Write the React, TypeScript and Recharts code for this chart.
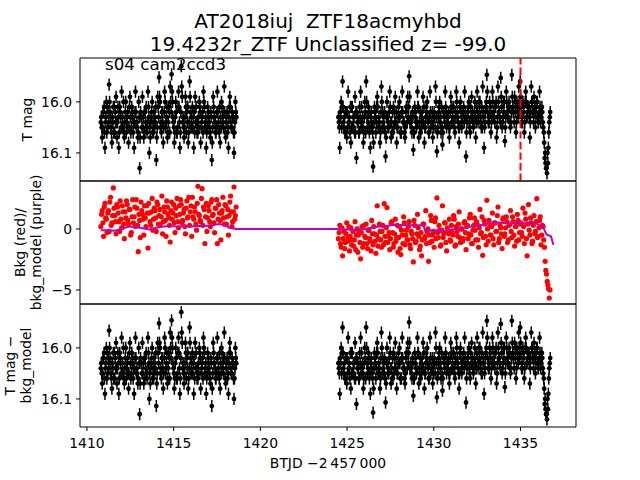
import React from 'react';
import {
  ScatterChart,
  ComposedChart,
  Scatter,
  Line,
  XAxis,
  YAxis,
  ErrorBar,
  ReferenceLine,
  ReferenceArea,
} from 'recharts';

// ---- data ----
// Light curve sampled on a regular cadence; three interleaved read-outs per cadence step.
const SEG1_START = 1410.8;
const SEG2_START = 1424.5;
const CADENCE = 0.08;
const MAG_ERR = 0.012;

// T mag, segment 1 (three interleaved phases)
const seg1Mag = [
  16.04, 16.07, 16.02, 16.09, 16.0, 16.05, 15.966, 16.03, 16.08, 16.01,
  16.06, 15.99, 16.04, 16.09, 16.02, 15.98, 16.05, 16.07, 16.0, 16.03,
  16.08, 15.99, 16.05, 16.02, 16.09, 15.98, 16.04, 16.06, 16.13, 16.03,
  15.99, 16.07, 16.02, 16.05, 15.98, 16.1, 16.04, 16.0, 16.06, 16.03,
  16.114, 15.99, 15.952, 16.05, 16.02, 16.08, 15.98, 16.04, 16.07, 16.01,
  15.97, 15.946, 16.03, 16.08, 16.0, 16.06, 15.98, 16.09, 15.93, 16.04,
  16.07, 15.99, 16.02, 16.08, 15.96, 16.05, 16.01, 16.09, 15.99, 16.04,
  16.06, 16.0, 16.08, 16.03, 15.98, 16.05, 16.09, 16.01, 16.04, 16.07,
  16.114, 15.99, 16.03, 16.06, 15.98, 16.05, 16.08, 16.0, 16.04, 15.97,
  16.07, 16.02, 16.09, 15.99, 16.05, 16.03, 16.1, 16.0,
];
const seg1MagB = [
  16.03, 16.05, 16.01, 16.04, 16.06, 16.02, 16.0, 16.05, 16.03, 16.06,
  16.02, 16.04, 16.01, 16.06, 16.03, 16.05, 16.0, 16.04, 16.06, 16.02,
  16.05, 16.03, 16.01, 16.06, 16.04, 16.02, 16.05, 16.0, 16.07, 16.03,
  16.05, 16.02, 16.04, 16.06, 16.01, 16.05, 16.03, 16.06, 16.02, 16.04,
  16.07, 16.01, 15.99, 16.04, 16.02, 16.05, 16.0, 16.03, 16.06, 16.02,
  16.0, 15.98, 16.04, 16.06, 16.02, 16.05, 16.01, 16.06, 15.97, 16.03,
  16.05, 16.01, 16.04, 16.06, 15.99, 16.03, 16.05, 16.02, 16.04, 16.06,
  16.03, 16.01, 16.05, 16.02, 16.0, 16.04, 16.06, 16.03, 16.05, 16.02,
  16.08, 16.01, 16.04, 16.05, 16.02, 16.06, 16.03, 16.01, 16.05, 16.02,
  16.04, 16.06, 16.03, 16.01, 16.05, 16.03, 16.06, 16.02,
];
const seg1MagC = [
  16.05, 16.02, 16.06, 16.03, 16.01, 16.04, 16.02, 16.06, 16.04, 16.01,
  16.04, 16.07, 16.03, 16.01, 16.05, 16.03, 16.06, 16.02, 16.04, 16.05,
  16.01, 16.06, 16.03, 16.04, 16.02, 16.05, 16.07, 16.03, 16.02, 16.05,
  16.03, 16.06, 16.01, 16.04, 16.03, 16.07, 16.02, 16.04, 16.05, 16.01,
  16.05, 16.03, 16.0, 16.06, 16.04, 16.02, 16.05, 16.01, 16.04, 16.06,
  16.02, 16.0, 16.05, 16.03, 16.06, 16.01, 16.04, 16.02, 15.99, 16.05,
  16.03, 16.06, 16.01, 16.04, 16.02, 16.05, 16.03, 16.06, 16.01, 16.04,
  16.05, 16.02, 16.04, 16.06, 16.01, 16.03, 16.05, 16.02, 16.06, 16.03,
  16.05, 16.03, 16.06, 16.02, 16.04, 16.01, 16.05, 16.03, 16.02, 16.06,
  16.03, 16.05, 16.01, 16.04, 16.02, 16.06, 16.04, 16.03,
];

// T mag, segment 2 (three interleaved phases)
const seg2Mag = [
  16.03, 16.09, 16.0, 15.96, 16.05, 16.02, 16.07, 15.98, 16.04, 16.08,
  16.01, 16.05, 15.99, 16.11, 16.03, 16.06, 15.98, 16.04, 16.08, 16.0,
  15.96, 16.05, 16.02, 16.09, 16.04, 16.127, 16.01, 16.06, 15.99, 16.03,
  16.08, 15.97, 16.02, 16.05, 16.107, 16.0, 16.04, 15.98, 16.07, 16.02,
  16.05, 15.99, 16.08, 16.03, 16.0, 16.06, 15.98, 16.04, 16.07, 16.01,
  15.99, 15.95, 16.03, 16.06, 16.094, 16.01, 16.04, 15.98, 16.07, 16.02,
  16.05, 15.99, 16.08, 16.03, 16.0, 16.06, 15.98, 16.04, 16.07, 16.02,
  15.97, 16.097, 16.03, 16.0, 16.06, 16.084, 16.02, 15.98, 16.05, 16.03,
  16.07, 15.99, 16.04, 16.01, 16.06, 15.98, 16.03, 16.08, 16.0, 16.05,
  16.02, 15.98, 16.107, 16.03, 16.0, 16.06, 15.99, 16.04, 16.02, 16.07,
  15.98, 16.03, 16.0, 16.05, 15.97, 16.09, 16.02, 15.947, 16.04, 16.0,
  16.06, 15.98, 16.03, 16.01, 16.07, 15.97, 16.02, 15.953, 16.05, 16.0,
  16.077, 15.98, 16.03, 16.0, 16.05, 15.947, 16.02, 15.99, 16.06, 16.01,
  15.97, 15.96, 16.04, 16.0, 16.06, 15.98, 16.03, 16.01, 16.07, 15.97,
  16.02, 15.99, 16.05, 16.0, 16.04, 15.98, 16.03, 16.02, 16.06, 16.1,
  16.13, 16.12, 16.04,
];
const seg2MagB = [
  16.04, 16.02, 16.05, 16.01, 16.03, 16.06, 16.02, 16.04, 16.06, 16.01,
  16.05, 16.03, 16.06, 16.02, 16.04, 16.01, 16.05, 16.03, 16.06, 16.02,
  16.0, 16.04, 16.06, 16.03, 16.05, 16.08, 16.02, 16.04, 16.01, 16.05,
  16.06, 16.0, 16.04, 16.02, 16.07, 16.03, 16.05, 16.01, 16.04, 16.06,
  16.02, 16.04, 16.05, 16.01, 16.03, 16.06, 16.02, 16.04, 16.05, 16.01,
  16.03, 15.99, 16.04, 16.02, 16.06, 16.03, 16.05, 16.01, 16.04, 16.06,
  16.02, 16.04, 16.05, 16.01, 16.03, 16.06, 16.02, 16.04, 16.05, 16.03,
  16.0, 16.06, 16.02, 16.04, 16.01, 16.06, 16.03, 16.01, 16.04, 16.02,
  16.05, 16.01, 16.03, 16.04, 16.02, 16.0, 16.04, 16.05, 16.02, 16.03,
  16.01, 16.03, 16.06, 16.02, 16.04, 16.01, 16.03, 16.05, 16.0, 16.04,
  16.02, 16.0, 16.04, 16.01, 16.03, 16.05, 16.01, 15.98, 16.03, 16.02,
  16.04, 16.0, 16.03, 16.01, 16.05, 16.0, 16.03, 15.99, 16.04, 16.02,
  16.05, 16.0, 16.03, 16.01, 16.04, 15.99, 16.02, 16.0, 16.04, 16.02,
  16.0, 15.99, 16.03, 16.01, 16.04, 16.0, 16.02, 16.01, 16.04, 16.0,
  16.02, 16.01, 16.03, 16.0, 16.03, 16.01, 16.02, 16.04, 16.08, 16.12,
  16.14, 16.09, 16.03,
];
const seg2MagC = [
  16.05, 16.03, 16.01, 16.04, 16.06, 16.02, 16.05, 16.03, 16.01, 16.05,
  16.03, 16.06, 16.02, 16.04, 16.06, 16.03, 16.01, 16.05, 16.03, 16.06,
  16.03, 16.01, 16.05, 16.02, 16.06, 16.04, 16.03, 16.01, 16.05, 16.04,
  16.02, 16.05, 16.03, 16.06, 16.03, 16.05, 16.02, 16.04, 16.06, 16.01,
  16.04, 16.02, 16.05, 16.03, 16.06, 16.02, 16.04, 16.06, 16.02, 16.04,
  16.01, 16.04, 16.05, 16.03, 16.06, 16.02, 16.04, 16.01, 16.05, 16.03,
  16.04, 16.01, 16.05, 16.02, 16.04, 16.03, 16.05, 16.02, 16.03, 16.05,
  16.03, 16.05, 16.01, 16.03, 16.05, 16.02, 16.04, 16.02, 16.03, 16.05,
  16.02, 16.04, 16.01, 16.05, 16.03, 16.02, 16.05, 16.01, 16.04, 16.02,
  16.04, 16.02, 16.04, 16.01, 16.05, 16.03, 16.02, 16.04, 16.03, 16.01,
  16.04, 16.02, 16.03, 16.05, 16.02, 16.04, 16.0, 16.02, 16.04, 16.01,
  16.03, 16.02, 16.04, 16.0, 16.03, 16.02, 16.04, 16.01, 16.03, 16.0,
  16.03, 16.02, 16.01, 16.04, 16.02, 16.01, 16.04, 16.02, 16.0, 16.03,
  16.02, 16.01, 16.04, 16.02, 16.0, 16.03, 16.01, 16.03, 16.02, 16.0,
  16.04, 16.02, 16.01, 16.03, 16.02, 16.04, 16.01, 16.05, 16.11, 16.13,
  16.1, 16.06, 16.02,
];

// Background flux, two interleaved phases per segment
const seg1Bkg = [
  0.2, 1.5, -0.6, 2.1, 0.8, 1.3, -0.2, 2.6, 0.5, 3.36,
  1.1, -0.4, 1.8, 0.6, 2.3, 0.1, 1.4, -0.8, 0.9, 2.0,
  0.4, 1.6, -0.3, 2.4, 1.0, 0.2, 1.7, -1.86, 0.7, 2.2,
  1.2, -0.5, 0.9, 1.9, -1.56, 1.3, 0.3, 2.5, 0.8, 1.5,
  -0.2, 2.0, 1.1, 0.4, 2.7, 0.6, 1.4, -0.6, 1.8, 0.9,
  -1.07, 2.2, 1.3, 0.5, 1.7, 2.5, 0.1, 1.2, 2.0, 0.7,
  1.6, -0.4, 2.3, 1.0, 0.3, 1.9, 2.6, 0.8, 1.4, -0.1,
  3.5, 1.1, 0.6, 3.3, 1.8, -1.2, 2.1, 0.9, 1.5, 0.2,
  2.4, 1.2, -0.3, 1.7, -1.2, 2.0, 0.7, 1.3, 2.6, 0.4,
  1.9, 1.0, -0.5, 2.2, 1.4, 0.6, 3.44, 1.1,
];
const seg1BkgB = [
  1.2, 0.5, 1.8, 0.9, -0.3, 1.5, 2.2, 0.3, 1.1, 1.7,
  0.6, 2.0, 1.3, -0.2, 0.8, 1.9, 0.4, 1.4, 2.3, 0.7,
  1.6, -0.5, 1.0, 0.5, 1.8, 2.4, 0.3, 1.2, -0.7, 1.5,
  0.8, 1.9, 0.2, 1.3, 2.1, 0.6, 1.4, -0.1, 1.7, 0.9,
  2.2, 0.4, 1.6, 1.0, -0.4, 1.8, 0.7, 2.3, 1.2, 0.3,
  1.5, 0.8, 2.0, -0.3, 1.1, 0.6, 1.9, 2.4, 0.5, 1.3,
  0.2, 1.7, 0.9, 2.6, 1.4, -0.6, 1.0, 1.8, 0.4, 2.1,
  1.2, 0.7, 2.5, 0.3, 1.6, 1.0, -0.2, 1.9, 0.6, 2.2,
  1.1, 0.5, 1.7, 2.4, 0.8, 1.3, -0.9, 1.5, 0.9, 2.0,
  0.4, 1.6, 1.1, 2.7, 0.2, 1.4, 0.8, 1.8,
];
const seg2Bkg = [
  -0.8, 0.3, -1.5, -2.2, -0.2, -1.1, 0.5, -0.7, -1.8, 0.1,
  -0.9, -1.4, 0.6, -0.5, -1.9, -0.3, -2.45, 0.2, -1.2, -0.6,
  0.4, -1.6, -0.1, -1.0, 0.7, -1.3, -0.4, -2.0, 1.9, -0.8,
  -0.2, -1.5, 0.3, 2.07, -1.1, 1.75, -0.6, -1.7, 0.5, -0.3,
  -1.2, 0.8, -0.7, -1.9, 0.2, -2.1, -0.5, 1.0, -1.3, -0.1,
  -0.9, 0.6, -1.6, -0.4, -2.7, 0.3, -1.0, 1.2, -0.6, -1.4,
  -2.2, 0.4, -0.8, 1.5, -0.2, -2.65, -1.1, 0.7, -0.5, -1.5,
  0.9, 2.54, -0.7, -0.1, -1.3, 1.9, -0.4, 0.5, -1.8, -0.2,
  0.8, -1.0, -0.3, 1.1, -1.4, 0.2, -0.6, 1.4, -1.1, 0.0,
  -0.8, 0.6, -1.7, 0.3, -0.4, 1.2, -1.2, -0.1, 0.9, -0.9,
  0.4, -1.5, 1.6, -0.3, -2.16, 0.7, -0.6, 2.35, -1.0, 0.2,
  -0.5, 1.3, -1.3, 0.5, -0.2, 1.8, -0.8, 0.1, -1.6, 0.9,
  -0.4, 1.0, -1.1, 0.3, 1.5, -0.7, 0.6, -1.4, 0.2, 1.2,
  -0.9, 0.4, -0.3, 1.7, -1.2, 0.8, -2.2, 2.0, -0.5, 0.5,
  -1.0, 1.1, -0.2, 2.48, -0.6, 0.7, -1.3, 0.3, -0.9, -2.65,
  -3.7, -4.6, -5.66,
];
const seg2BkgB = [
  -0.3, -1.2, 0.1, -0.8, -1.6, -0.4, -1.0, 0.2, -0.6, -1.3,
  -0.2, -0.9, -1.7, 0.0, -0.5, -1.1, -0.3, -1.5, 0.3, -0.7,
  -1.2, -0.1, -0.8, -1.8, -0.4, 0.2, -1.0, -0.5, -1.4, 0.4,
  -0.9, -0.2, -1.3, -0.6, 0.1, -1.1, -0.3, -0.8, 0.6, -1.5,
  -0.4, -1.0, 0.3, -0.7, -1.6, -0.1, -1.2, 0.5, -0.5, -0.9,
  0.2, -1.3, -0.2, -0.8, 0.7, -1.1, -0.4, 0.1, -1.7, -0.3,
  -0.9, 0.4, -0.6, -1.2, 0.0, -0.5, 1.1, -1.0, -0.2, 0.6,
  -0.8, -0.3, 0.3, -1.4, -0.1, -0.7, 0.5, -1.1, 0.1, -0.4,
  -0.9, 0.3, -0.5, 0.8, -1.3, -0.2, 0.4, -0.7, 0.0, -1.0,
  0.5, -0.3, 0.2, -0.8, 0.9, -0.5, -1.2, 0.3, -0.1, 0.6,
  -0.9, 0.1, -0.4, 1.0, -0.7, 0.4, -1.3, 0.0, 0.7, -0.5,
  0.2, -0.8, 0.5, -0.2, 1.1, -1.1, 0.3, -0.4, 0.8, -0.6,
  0.1, 0.6, -0.9, 0.4, -0.2, 1.0, -0.5, 0.2, -1.0, 0.7,
  -0.3, 0.5, -0.6, 0.2, 1.3, -0.8, 0.4, -0.1, 0.9, -1.2,
  0.3, -0.4, 0.6, -0.7, 0.1, 1.0, -0.5, 0.2, -1.5, -3.4,
  -4.3, -4.9, -5.0,
];

// Background model (purple line)
const modelTime = [
  1410.8, 1411.2, 1411.6, 1412.0, 1412.4, 1412.8, 1413.2, 1413.6, 1414.0, 1414.4,
  1414.8, 1415.2, 1415.6, 1416.0, 1416.4, 1416.8, 1417.2, 1417.6, 1417.9, 1418.2,
  1418.6, 1424.5, 1425.0, 1425.5, 1426.0, 1426.6, 1427.2, 1427.8, 1428.4, 1429.0,
  1429.4, 1429.5, 1430.1, 1430.5, 1431.2, 1432.0, 1432.8, 1433.5, 1433.9, 1434.3,
  1434.9, 1435.4, 1435.9, 1436.3, 1436.5, 1436.75, 1436.9,
];
const modelBkg = [
  -0.1, -0.1, -0.15, 0.0, 0.2, 0.15, 0.05, -0.05, 0.1, 0.2,
  0.25, 0.2, 0.25, 0.2, 0.25, 0.25, 0.3, 0.4, 0.35, 0.1,
  0.0, 0.0, -0.05, -0.1, 0.0, 0.15, 0.25, 0.35, 0.3, 0.3,
  0.3, -0.15, -0.1, -0.2, 0.0, 0.15, 0.35, 0.55, 0.5, 0.45,
  0.5, 0.45, 0.45, 0.15, -0.45, -0.6, -1.3,
];

const xTicks = [1410, 1415, 1420, 1425, 1430, 1435];
const magTicks = [16.0, 16.1];
const bkgTicks = [-5, 0];
const X_DOMAIN: [number, number] = [1409.6, 1438.2];
const MAG_DOMAIN: [number, number] = [15.914, 16.155];
const BKG_DOMAIN: [number, number] = [-6.15, 3.93];
const MARK_TIME = 1435.0;

const TITLE_1 = 'AT2018iuj\u00a0 ZTF18acmyhbd';
const TITLE_2 = '19.4232r_ZTF Unclassified z= -99.0';
const SECTOR_LABEL = 's04 cam2ccd3';
const X_LABEL = 'BTJD \u22122\u2009457\u2009000';

// ---- derived tables ----
const at = (start: number, phase: number, i: number) =>
  +(start + (i + phase / 3) * CADENCE).toFixed(4);
const magRows = (start: number, phase: number, arr: number[]) =>
  arr.map((m, i) => ({ t: at(start, phase, i), m, e: MAG_ERR }));
const bkgRows = (start: number, phase: number, arr: number[]) =>
  arr.map((b, i) => ({ t: at(start, phase, i), b }));

const magData = [
  ...magRows(SEG1_START, 0, seg1Mag),
  ...magRows(SEG1_START, 1, seg1MagB),
  ...magRows(SEG1_START, 2, seg1MagC),
  ...magRows(SEG2_START, 0, seg2Mag),
  ...magRows(SEG2_START, 1, seg2MagB),
  ...magRows(SEG2_START, 2, seg2MagC),
];
const bkgData = [
  ...bkgRows(SEG1_START, 0, seg1Bkg),
  ...bkgRows(SEG1_START, 1.5, seg1BkgB),
  ...bkgRows(SEG2_START, 0, seg2Bkg),
  ...bkgRows(SEG2_START, 1.5, seg2BkgB),
];
const modelData = modelTime.map((t, i) => ({ t, b: modelBkg[i] }));

// ---- styles ----
const FONT = "'DejaVu Sans', sans-serif";
const TICK_STYLE = { fill: '#000', fontSize: 13.9, fontFamily: FONT };
const MARGIN_TOP = { top: 5, right: 64, bottom: 5, left: 0 };
const MARGIN_BOT = { top: 5, right: 64, bottom: 0, left: 0 };

const blackDot = (p: any) => <circle cx={p.cx} cy={p.cy} r={2.4} fill="#000" />;
const redDot = (p: any) => <circle cx={p.cx} cy={p.cy} r={2.6} fill="#ff0000" />;

const minusFmt = (v: number) => (v < 0 ? '\u2212' + Math.abs(v) : String(v));
const magFmt = (v: number) => v.toFixed(1);

const yAxisCommon = {
  type: 'number' as const,
  width: 80,
  tickSize: 4,
  tickMargin: 4,
  axisLine: false,
  tickLine: { stroke: '#000' },
  tick: TICK_STYLE,
  allowDataOverflow: true,
};

export default function App() {
  return (
    <div style={{ position: 'absolute', left: 0, top: 0, width: 640, height: 480, background: '#fff' }}>
      {/* Top panel */}
      <div style={{ position: 'absolute', left: 0, top: 53 }}>
        <ScatterChart width={640} height={133} margin={MARGIN_TOP}>
          <XAxis type="number" dataKey="t" domain={X_DOMAIN} allowDataOverflow hide />
          <YAxis {...yAxisCommon} dataKey="m" domain={MAG_DOMAIN} reversed ticks={magTicks} tickFormatter={magFmt} />
          <ReferenceArea x1={X_DOMAIN[0]} x2={X_DOMAIN[1]} y1={MAG_DOMAIN[0]} y2={MAG_DOMAIN[1]} fill="none" fillOpacity={0} stroke="#000" strokeWidth={1} />
          <Scatter data={magData} isAnimationActive={false} shape={blackDot}>
            <ErrorBar dataKey="e" direction="y" width={0} stroke="#000" strokeWidth={1.5} />
          </Scatter>
          <ReferenceLine x={MARK_TIME} stroke="#ff0000" strokeWidth={2} strokeDasharray="7.4 3.2" zIndex={900} />
        </ScatterChart>
      </div>

      {/* Middle panel */}
      <div style={{ position: 'absolute', left: 0, top: 176 }}>
        <ComposedChart width={640} height={133} margin={MARGIN_TOP}>
          <XAxis type="number" dataKey="t" domain={X_DOMAIN} allowDataOverflow hide />
          <YAxis {...yAxisCommon} dataKey="b" domain={BKG_DOMAIN} ticks={bkgTicks} tickFormatter={minusFmt} />
          <ReferenceArea x1={X_DOMAIN[0]} x2={X_DOMAIN[1]} y1={BKG_DOMAIN[0]} y2={BKG_DOMAIN[1]} fill="none" fillOpacity={0} stroke="#000" strokeWidth={1} />
          <Scatter data={bkgData} dataKey="b" isAnimationActive={false} shape={redDot} />
          <Line data={modelData} dataKey="b" type="linear" stroke="#bf00bf" strokeWidth={2} dot={false} activeDot={false} isAnimationActive={false} zIndex={900} />
        </ComposedChart>
      </div>

      {/* Bottom panel */}
      <div style={{ position: 'absolute', left: 0, top: 299 }}>
        <ScatterChart width={640} height={181} margin={MARGIN_BOT}>
          <XAxis
            type="number"
            dataKey="t"
            domain={X_DOMAIN}
            allowDataOverflow
            ticks={xTicks}
            height={53}
            tickSize={4}
            tickMargin={7}
            axisLine={false}
            tickLine={{ stroke: '#000' }}
            tick={TICK_STYLE}
          />
          <YAxis {...yAxisCommon} dataKey="m" domain={MAG_DOMAIN} reversed ticks={magTicks} tickFormatter={magFmt} />
          <ReferenceArea x1={X_DOMAIN[0]} x2={X_DOMAIN[1]} y1={MAG_DOMAIN[0]} y2={MAG_DOMAIN[1]} fill="none" fillOpacity={0} stroke="#000" strokeWidth={1} />
          <Scatter data={magData} isAnimationActive={false} shape={blackDot}>
            <ErrorBar dataKey="e" direction="y" width={0} stroke="#000" strokeWidth={1.5} />
          </Scatter>
        </ScatterChart>
      </div>

      {/* Text overlay */}
      <svg width={640} height={480} style={{ position: 'absolute', left: 0, top: 0, pointerEvents: 'none' }} fontFamily={FONT} fill="#000">
        <text x={328} y={28} textAnchor="middle" fontSize={20}>{TITLE_1}</text>
        <text x={328} y={51} textAnchor="middle" fontSize={20}>{TITLE_2}</text>
        <text x={105} y={70} fontSize={16.7}>{SECTOR_LABEL}</text>
        <text x={27} y={119.5} transform="rotate(-90 27 119.5)" textAnchor="middle" dominantBaseline="central" fontSize={13.9}>T mag</text>
        <text x={19.5} y={242.5} transform="rotate(-90 19.5 242.5)" textAnchor="middle" dominantBaseline="central" fontSize={13.9}>Bkg (red)/</text>
        <text x={36} y={242.5} transform="rotate(-90 36 242.5)" textAnchor="middle" dominantBaseline="central" fontSize={13.9}>bkg_model (purple)</text>
        <text x={9.5} y={365.5} transform="rotate(-90 9.5 365.5)" textAnchor="middle" dominantBaseline="central" fontSize={13.9}>T mag {'\u2212'}</text>
        <text x={26} y={365.5} transform="rotate(-90 26 365.5)" textAnchor="middle" dominantBaseline="central" fontSize={13.9}>bkg_model</text>
        <text x={328} y={468} textAnchor="middle" fontSize={13.9}>{X_LABEL}</text>
      </svg>
    </div>
  );
}
